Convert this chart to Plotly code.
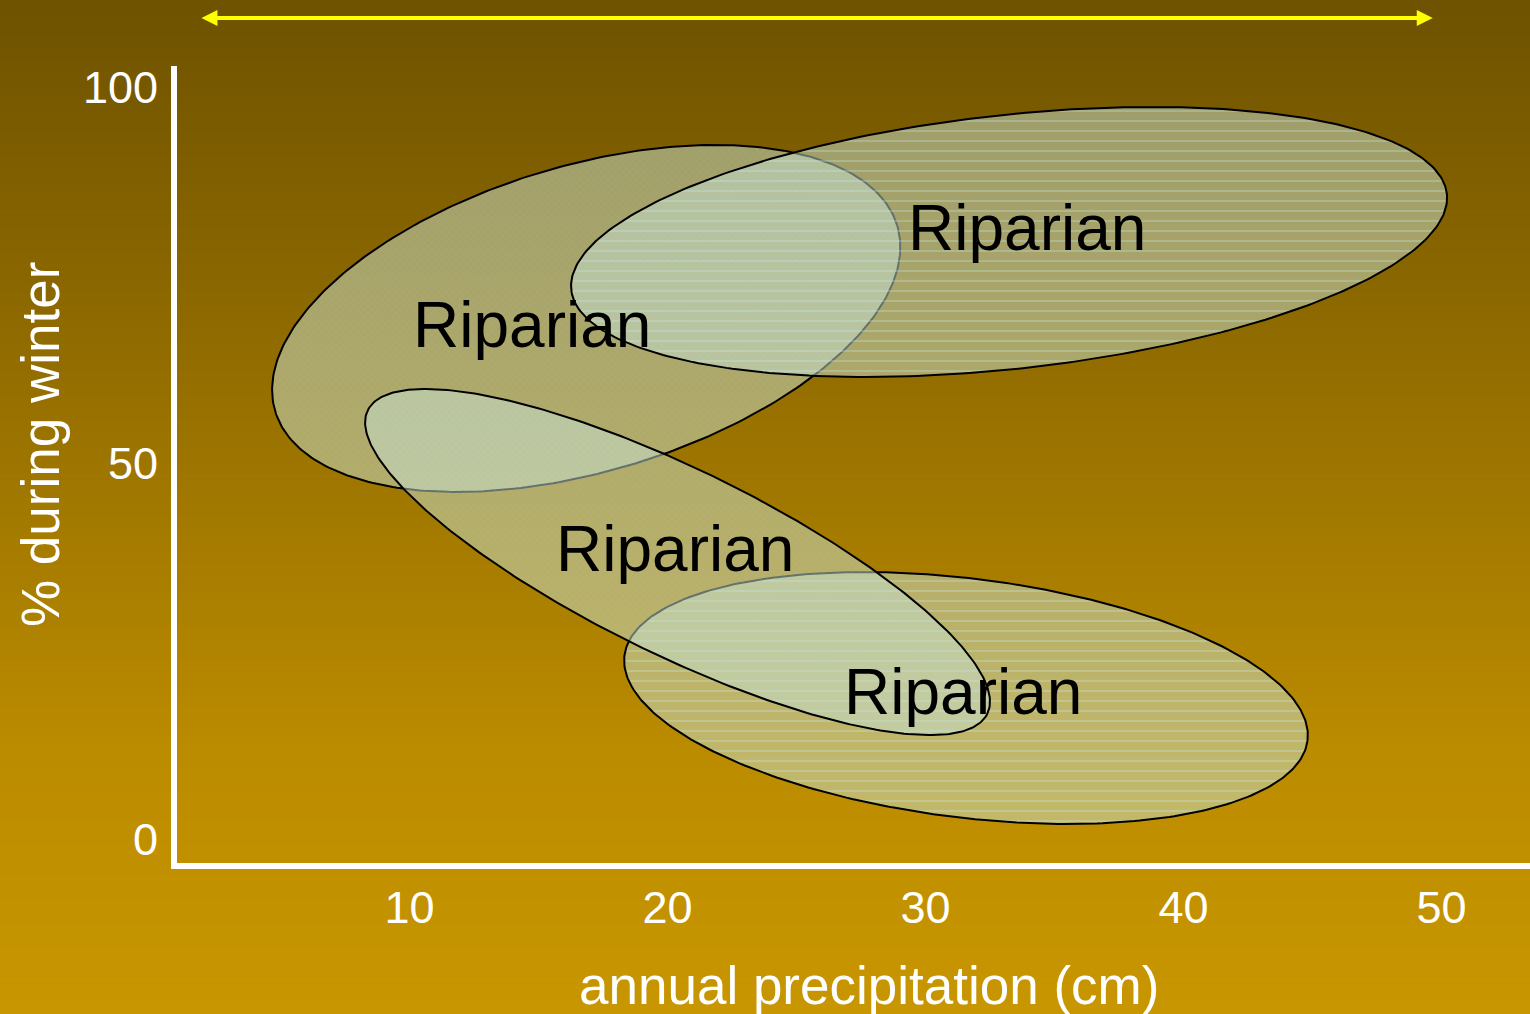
import numpy as np
import plotly.graph_objects as go

# ---- figure geometry -------------------------------------------------------
W, H = 1530, 1014
M_L, M_R, M_T, M_B = 177, 0, 66, 151
X_RANGE = [0.99, 53.43]
Y_RANGE = [-3.15, 102.83]

# ---- axis ticks ------------------------------------------------------------
x_ticks = [10, 20, 30, 40, 50]
y_ticks = [0, 50, 100]
x_title = "annual precipitation (cm)"
y_title = "% during winter"

# ---- habitat envelopes -----------------------------------------------------
labels = ["Riparian", "Riparian", "Riparian", "Riparian"]
center_precip = [16.85, 33.24, 31.57, 20.39]      # cm
center_winter = [69.26, 79.43, 18.79, 36.87]      # %
semi_major = [12.58, 17.07, 13.34, 13.37]         # cm-equivalent
semi_minor = [5.93, 4.92, 4.63, 3.59]             # cm-equivalent
tilt_deg = [16.6, 6.26, -7.1, -26.1]
label_precip = [14.75, 33.94, 31.46, 20.29]
label_winter = [68.39, 81.29, 19.59, 38.60]
striped = [False, True, True, False]

# range of precipitation spanned (top arrow)
span_precip = [1.88, 49.66]

# pixels per data unit along each axis
px_x = (W - M_L - M_R) / (X_RANGE[1] - X_RANGE[0])
px_y = (H - M_T - M_B) / (Y_RANGE[1] - Y_RANGE[0])


def ellipse(cx, cy, a, b, ang):
    t = np.linspace(0, 2 * np.pi, 361)
    th = np.radians(ang)
    u = a * px_x * np.cos(t)
    v = b * px_x * np.sin(t)
    dx = u * np.cos(th) - v * np.sin(th)
    dy = u * np.sin(th) + v * np.cos(th)
    return cx + dx / px_x, cy + dy / px_y


FILL = "rgba(198,226,212,0.5)"
FONT = "Liberation Sans, Arial, sans-serif"

fig = go.Figure()
for i in range(len(labels)):
    xs, ys = ellipse(center_precip[i], center_winter[i], semi_major[i],
                     semi_minor[i], tilt_deg[i])
    if striped[i]:
        patt = dict(shape="-", size=10, solidity=0.1,
                    fgcolor="rgb(200,236,236)", fgopacity=0.55, bgcolor=FILL)
    else:
        patt = dict(shape="x", size=5, solidity=0.2,
                    fgcolor="rgb(214,232,214)", fgopacity=0.1, bgcolor=FILL)
    fig.add_trace(go.Scatter(
        x=xs, y=ys, mode="lines", fill="toself", fillcolor=FILL,
        fillpattern=patt, line=dict(color="black", width=2),
        hoverinfo="skip", showlegend=False))

for i in range(len(labels)):
    fig.add_annotation(x=label_precip[i], y=label_winter[i], text=labels[i],
                       showarrow=False, xanchor="center", yanchor="middle",
                       font=dict(size=64, color="black"))

# double-headed arrow across the top
fig.add_annotation(x=span_precip[1], y=(H - M_B - 18) / (H - M_T - M_B),
                   xref="x", yref="paper", ax=span_precip[0], ay=0,
                   axref="x", ayref="pixel", text="", showarrow=True,
                   arrowside="end+start", arrowhead=2, startarrowhead=2,
                   arrowsize=0.8, startarrowsize=0.8, arrowwidth=4,
                   arrowcolor="#ffff00")

# axis titles
plot_w = W - M_L - M_R
plot_h = H - M_T - M_B
fig.add_annotation(x=(869 - M_L) / plot_w, y=(H - M_B - 985) / plot_h,
                   xref="paper", yref="paper", text=x_title, showarrow=False,
                   xanchor="center", yanchor="middle",
                   font=dict(size=53, color="white"))
fig.add_annotation(x=(40 - M_L) / plot_w, y=(H - M_B - 445) / plot_h,
                   xref="paper", yref="paper", text=y_title, showarrow=False,
                   textangle=-90, xanchor="center", yanchor="middle",
                   font=dict(size=53, color="white"))

# vertical background gradient
stops_y = [0, 300, 760, 1014]
stops_c = [(110, 82, 0), (140, 104, 0), (188, 140, 0), (200, 150, 0)]
n_bands = 169
band = H / n_bands
for k in range(n_bands):
    yc = (k + 0.5) * band
    r = np.interp(yc, stops_y, [c[0] for c in stops_c])
    g = np.interp(yc, stops_y, [c[1] for c in stops_c])
    b = np.interp(yc, stops_y, [c[2] for c in stops_c])
    top = (H - M_B - k * band) / plot_h
    bot = (H - M_B - (k + 1) * band) / plot_h
    fig.add_shape(type="rect", xref="paper", yref="paper",
                  x0=-M_L / plot_w - 0.01, x1=1.01, y0=bot, y1=top + 0.001,
                  fillcolor=f"rgb({r:.0f},{g:.0f},{b:.0f})", line_width=0,
                  layer="below")

fig.update_layout(
    width=W, height=H,
    margin=dict(l=M_L, r=M_R, t=M_T, b=M_B, autoexpand=False),
    paper_bgcolor="rgba(0,0,0,0)", plot_bgcolor="rgba(0,0,0,0)",
    font=dict(family=FONT, color="white"),
    xaxis=dict(range=X_RANGE, tickvals=x_ticks, ticktext=[str(v) for v in x_ticks],
               showgrid=False, zeroline=False, showline=True, linecolor="white",
               linewidth=6, ticks="", tickfont=dict(size=45, color="white"),
               ticklabelstandoff=0),
    yaxis=dict(range=Y_RANGE, tickvals=y_ticks, ticktext=[str(v) for v in y_ticks],
               showgrid=False, zeroline=False, showline=True, linecolor="white",
               linewidth=6, ticks="", tickfont=dict(size=45, color="white"),
               ticklabelstandoff=4),
)

fig.write_html("out.html")
